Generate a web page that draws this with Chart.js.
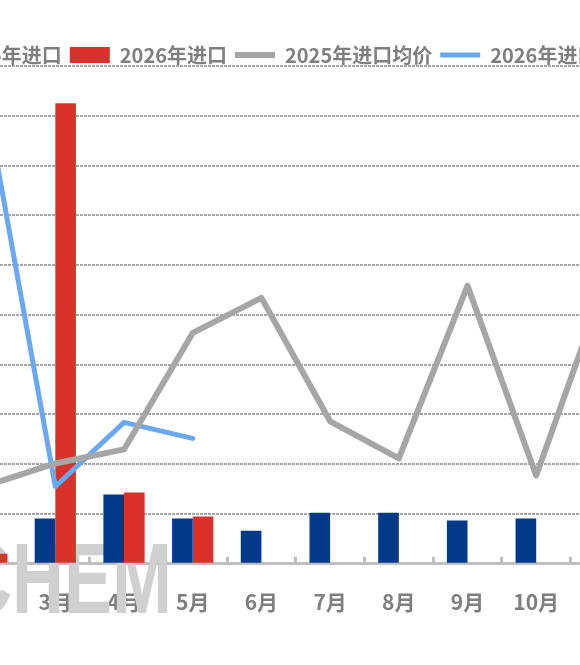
<!DOCTYPE html>
<html>
<head>
<meta charset="utf-8">
<script src="https://cdn.jsdelivr.net/npm/chart.js@4.4.1/dist/chart.umd.min.js"></script>
<style>
  html, body { margin: 0; padding: 0; background: #fff; overflow: hidden; width: 580px; height: 665px; }
  #wrap { position: absolute; left: -129px; top: 0; width: 800px; height: 665px; }
</style>
</head>
<body>
<div id="wrap"><canvas id="chart"></canvas></div>
<script>
// 可见月份（图是裁切过的，左侧只露出2月的一角，右侧到11月）
const months = ['2月', '3月', '4月', '5月', '6月', '7月', '8月', '9月', '10月', '11月'];

// 进口量（左轴）
const import2025 = [null, 4540, 6960, 4540, 3330, 5140, 5140, 4340, 4540, null];
const import2026 = [1000, 46270, 7160, 4740, null, null, null, null, null, null];

// 进口均价（右轴）
const price2025 = [786, 1008, 1149, 2319, 2671, 1431, 1058, 2792, 887, 2820];
const price2026 = [4607, 776, 1421, 1260, null, null, null, null, null, null];

// 轴刻度
const volumeMax = 50000;
const volumeStep = 5000;
const priceMax = 5000;

Chart.defaults.font.family = '"Noto Sans CJK SC", "Noto Sans", sans-serif';
Chart.defaults.font.weight = 'bold';
Chart.defaults.color = '#7f7f7f';

// 水印
const watermark = {
    id: 'watermark',
    beforeDatasetsDraw(chart) {
        const ctx = chart.ctx;
        ctx.save();
        ctx.fillStyle = '#d0d0d0';
        ctx.font = 'bold 100px "Liberation Sans", Arial, sans-serif';
        ctx.textBaseline = 'alphabetic';
        ctx.translate(129 - 40, 613);
        ctx.scale(0.72, 1);
        ctx.fillText('CHEM', 0, 0);
        ctx.restore();
    }
};

const ctx = document.getElementById('chart');
new Chart(ctx, {
    type: 'bar',
    data: {
        labels: months,
        datasets: [
            {
                label: '2025年进口',
                data: import2025,
                backgroundColor: '#023a89',
                yAxisID: 'y',
                order: 2,
                pointStyle: 'rect',
                categoryPercentage: 0.6,
                barPercentage: 1
            },
            {
                label: '2026年进口',
                data: import2026,
                backgroundColor: '#d8322a',
                yAxisID: 'y',
                order: 2,
                pointStyle: 'rect',
                categoryPercentage: 0.6,
                barPercentage: 1
            },
            {
                type: 'line',
                label: '2025年进口均价',
                data: price2025,
                borderColor: '#a6a6a6',
                backgroundColor: '#a6a6a6',
                borderWidth: 6,
                pointRadius: 0,
                pointStyle: 'line',
                borderJoinStyle: 'round',
                borderCapStyle: 'round',
                tension: 0,
                yAxisID: 'y1',
                order: 1
            },
            {
                type: 'line',
                label: '2026年进口均价',
                data: price2026,
                borderColor: '#6aa8f5',
                backgroundColor: '#6aa8f5',
                borderWidth: 5,
                pointRadius: 0,
                pointStyle: 'line',
                borderJoinStyle: 'round',
                borderCapStyle: 'round',
                tension: 0,
                yAxisID: 'y1',
                order: 1
            }
        ]
    },
    options: {
        responsive: true,
        maintainAspectRatio: false,
        animation: false,
        layout: { padding: { left: 0, right: 0, top: 37, bottom: 17 } },
        plugins: {
            legend: {
                maxHeight: 29,
                labels: {
                    usePointStyle: true,
                    pointStyleWidth: 40,
                    boxHeight: 16,
                    padding: 8,
                    color: '#7f7f7f',
                    font: { size: 20, weight: 'bold' },
                    sort: (a, b) => a.datasetIndex - b.datasetIndex
                }
            },
            tooltip: { enabled: false }
        },
        scales: {
            x: {
                grid: {
                    drawOnChartArea: false,
                    drawTicks: true,
                    tickLength: -7,
                    color: '#bfbfbf',
                    lineWidth: 3
                },
                border: { display: true, color: '#bfbfbf', width: 3 },
                ticks: {
                    padding: 33,
                    autoSkip: false,
                    maxRotation: 0,
                    color: '#7f7f7f',
                    font: { size: 21, weight: 'bold' }
                }
            },
            y: {
                min: 0,
                max: volumeMax,
                afterFit: s => { s.width = 81.25; },
                ticks: { display: false, stepSize: volumeStep },
                grid: {
                    drawTicks: false,
                    lineWidth: 2,
                    color: c => c.tick && c.tick.value === 0 ? 'rgba(0,0,0,0)' : '#a8a8a8'
                },
                border: { display: false, dash: [3, 1] }
            },
            y1: {
                position: 'right',
                min: 0,
                max: priceMax,
                afterFit: s => { s.width = 31.75; },
                ticks: { display: false },
                grid: { display: false },
                border: { display: false }
            }
        }
    },
    plugins: [watermark]
});
</script>
</body>
</html>
